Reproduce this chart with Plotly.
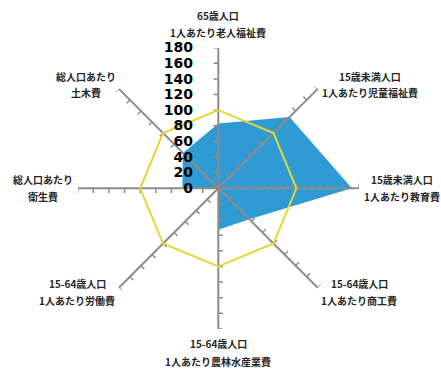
import math
import plotly.graph_objects as go

# Spoke names (two lines each), clockwise from the top
categories = [
    ("65歳人口", "1人あたり老人福祉費"),
    ("15歳未満人口", "1人あたり児童福祉費"),
    ("15歳未満人口", "1人あたり教育費"),
    ("15-64歳人口", "1人あたり商工費"),
    ("15-64歳人口", "1人あたり農林水産業費"),
    ("15-64歳人口", "1人あたり労働費"),
    ("総人口あたり", "衛生費"),
    ("総人口あたり", "土木費"),
]
# Index values (national average = 100)
city_values = [83, 129, 171, 56, 53, 0, 46, 64]
baseline_values = [100, 100, 100, 100, 100, 100, 100, 100]
radial_ticks = [0, 20, 40, 60, 80, 100, 120, 140, 160, 180]

R_MAX = 180
angles = [i * 360 / len(categories) for i in range(len(categories))]

BLUE = "#2f9bd4"
YELLOW = "#e0d838"
GRAY = "#8c8c8c"

fig = go.Figure()

# filled series
fig.add_trace(go.Scatterpolar(
    r=city_values + city_values[:1], theta=angles + angles[:1],
    mode="lines", fill="toself", fillcolor=BLUE,
    line=dict(color=BLUE, width=0), hoverinfo="skip", showlegend=False))

# spokes
sr, st = [], []
for a in angles:
    sr += [0, R_MAX, None]
    st += [a, a, None]
fig.add_trace(go.Scatterpolar(r=sr, theta=st, mode="lines",
                              line=dict(color=GRAY, width=2),
                              hoverinfo="skip", showlegend=False))

# tick marks on the counter-clockwise side of each spoke
h = 6.0
tr, tt = [], []
for a in angles:
    for v in radial_ticks[1:]:
        tr += [v, math.hypot(v, h), None]
        tt += [a, a - math.degrees(math.atan2(h, v)), None]
fig.add_trace(go.Scatterpolar(r=tr, theta=tt, mode="lines",
                              line=dict(color=GRAY, width=1.5),
                              hoverinfo="skip", showlegend=False))

# reference line at 100
fig.add_trace(go.Scatterpolar(
    r=baseline_values + baseline_values[:1], theta=angles + angles[:1],
    mode="lines", line=dict(color=YELLOW, width=2),
    hoverinfo="skip", showlegend=False))

fig.update_layout(
    width=441, height=369,
    margin=dict(l=0, r=0, t=0, b=0),
    paper_bgcolor="white",
    plot_bgcolor="white",
    showlegend=False,
    polar=dict(
        domain=dict(x=[0.1762, 0.8138], y=[0.1087, 0.8707]),
        bgcolor="white",
        angularaxis=dict(
            rotation=90, direction="clockwise", thetaunit="degrees",
            showgrid=False, showline=False,
            showticklabels=False, ticks="",
        ),
        radialaxis=dict(
            range=[0, R_MAX], angle=90, tickangle=90,
            side="counterclockwise",
            tickvals=radial_ticks, ticktext=[str(v) for v in radial_ticks],
            showgrid=False, showline=False,
            ticks="outside", ticklen=20, tickcolor="rgba(0,0,0,0)",
            tickfont=dict(family="DejaVu Sans", size=14, color="#000000",
                          weight="bold"),
        ),
    ),
)

# spoke labels, one annotation per line
label_pos = [
    (218, 15, 32), (370, 76, 93), (402, 179, 196), (359, 283, 300),
    (218, 343, 361), (77, 283, 300), (43, 179, 196), (86, 76, 93),
]
for (line1, line2), (x, y1, y2) in zip(categories, label_pos):
    for text, y in ((line1, y1), (line2, y2)):
        fig.add_annotation(
            x=x / 441, y=1 - y / 369, xref="paper", yref="paper",
            text=text, showarrow=False, xanchor="center", yanchor="middle",
            font=dict(family="Noto Sans CJK JP", size=10, color="#262626",
                      weight="bold"),
        )

fig.write_html("out.html")
